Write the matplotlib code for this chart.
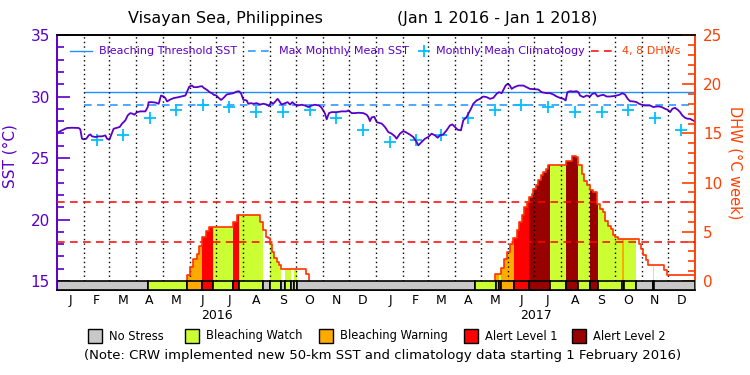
import numpy as np
import pandas as pd
import matplotlib
matplotlib.use('Agg')
import matplotlib.pyplot as plt
from matplotlib.patches import Rectangle
from matplotlib.lines import Line2D

plt.rcParams['font.family'] = 'DejaVu Sans'

# x values are days since 1 Jan 2016
sst_days = [0, 5.7, 11.5, 17.2, 24.8, 26.7, 28.6, 30.6, 33.6, 36.3, 38.2, 40.1, 43.9, 47.7,
            51.6, 55.4, 57.3, 60.0, 61.9, 64.9, 68.8, 71.8, 74.5, 78.3, 81.0, 84.0, 86.7, 88.6,
            91.7, 95.5, 101.2, 103.9, 105.0, 108.9, 112.7, 116.5, 119.2, 122.2, 124.1, 126.1,
            129.9, 133.7, 139.4, 147.1, 149.7, 151.6, 154.7, 156.6, 160.4, 163.5, 166.2, 168.1,
            170.0, 172.7, 174.9, 177.6, 179.5, 182.6, 185.0, 188.0, 191.0, 194.4, 198.2, 202.0,
            205.8, 208.5, 210.8, 213.5, 217.3, 219.2, 222.3, 224.9, 228.7, 232.6, 236.4, 240.2,
            242.9, 245.2, 247.8, 250.5, 252.8, 255.5, 257.4, 261.2, 264.3, 266.9, 269.6, 272.7,
            276.5, 280.3, 284.1, 288.0, 291.8, 295.6, 300.2, 302.5, 305.1, 307.1, 309.0, 311.6,
            314.7, 320.4, 326.2, 331.9, 333.8, 337.6, 341.4, 345.2, 351.0, 354.8, 356.7, 358.6,
            360.5, 363.6, 366.3, 369.3, 372.0, 375.8, 379.6, 383.4, 387.2, 389.1, 392.9, 396.8,
            400.6, 404.4, 408.2, 412.0, 414.0, 417.8, 421.6, 425.4, 429.2, 433.1, 436.1, 438.8,
            442.6, 446.4, 450.2, 452.9, 456.0, 459.0, 462.8, 465.5, 469.3, 471.3, 474.3, 477.0,
            480.8, 484.6, 488.4, 492.3, 496.1, 499.9, 503.7, 506.4, 509.5, 511.4, 514.0, 516.3,
            519.0, 520.9, 524.0, 528.5, 534.3, 538.1, 541.9, 545.7, 551.5, 555.3, 561.1, 564.9,
            568.7, 572.5, 576.3, 580.2, 582.8, 584.8, 587.8, 591.6, 595.4, 597.4, 599.3, 603.1,
            606.9, 610.7, 613.4, 616.5, 619.5, 622.2, 626.0, 629.8, 633.6, 637.5, 641.3, 645.1,
            647.8, 650.8, 653.9, 656.6, 660.4, 664.2, 666.9, 669.9, 673.7, 679.5, 683.3, 687.1,
            689.8, 692.9, 696.7, 699.7, 702.4, 705.1, 708.1, 711.2, 713.9, 716.5, 719.6, 722.6,
            725.3, 727.2, 730.3]
sst_vals = [27.03, 27.25, 27.44, 27.46, 27.44, 27.33, 26.57, 26.52, 26.57, 26.84, 26.92, 26.76,
            26.71, 26.76, 26.76, 26.84, 26.57, 26.49, 26.84, 27.38, 27.46, 27.52, 27.79, 28.06,
            28.46, 28.65, 28.60, 28.52, 28.73, 28.79, 28.79, 29.14, 29.54, 29.54, 29.51, 29.41,
            30.08, 30.00, 29.87, 29.60, 29.76, 29.87, 29.95, 30.08, 30.49, 30.81, 30.89, 30.76,
            30.76, 30.81, 30.84, 30.70, 30.62, 30.49, 30.35, 30.27, 30.14, 30.08, 29.90, 29.72,
            29.90, 30.16, 30.22, 30.27, 30.40, 30.43, 30.27, 29.73, 29.68, 29.41, 29.46, 29.41,
            29.46, 29.35, 29.41, 29.35, 29.22, 29.54, 29.41, 29.62, 29.81, 29.54, 29.35, 29.46,
            29.54, 29.35, 29.54, 29.35, 29.27, 29.33, 29.27, 29.14, 29.27, 29.33, 29.27, 29.14,
            28.87, 28.60, 28.14, 28.65, 28.73, 28.73, 28.79, 28.79, 28.87, 28.65, 28.65, 28.68,
            28.65, 28.52, 28.33, 28.00, 28.30, 28.35, 27.92, 27.85, 27.80, 27.52, 27.11, 26.98,
            26.76, 26.57, 26.98, 27.19, 27.06, 26.90, 26.71, 26.30, 26.03, 26.30, 26.57, 26.71,
            26.98, 26.84, 26.65, 26.84, 26.92, 27.25, 27.65, 27.73, 27.52, 27.30, 27.25, 28.06,
            28.33, 28.60, 29.00, 29.41, 29.68, 29.81, 30.00, 29.95, 29.81, 29.89, 30.22, 30.35,
            30.27, 30.54, 30.89, 31.03, 30.89, 30.62, 30.76, 30.89, 30.89, 30.76, 30.62, 30.60,
            30.57, 30.35, 30.27, 30.27, 30.16, 30.00, 29.89, 29.81, 29.68, 30.35, 30.43, 30.40,
            30.43, 30.35, 30.08, 29.95, 30.08, 30.00, 30.22, 30.27, 30.00, 30.08, 30.14, 30.00,
            30.00, 30.03, 30.08, 30.16, 30.27, 30.16, 29.81, 29.62, 29.60, 29.54, 29.41, 29.33,
            29.27, 29.27, 29.14, 29.19, 29.19, 29.14, 29.00, 28.92, 28.73, 29.00, 29.08, 28.92,
            28.73, 28.46, 28.27, 28.19, 28.19, 28.11, 28.00]

# monthly mean climatology, Jan..Dec
clim_vals = [26.34, 26.50, 26.86, 28.25, 28.92, 29.31, 29.11, 28.77, 28.77, 28.90, 28.25, 27.31]
mmm = 29.33
threshold = 30.36
threshold_start = 31  # new data from 1 Feb 2016

# degree heating weeks
dhw16_days = [149.4, 149.4, 152.7, 155.8, 160.1, 163.0, 166.5, 170.4, 174.2, 202.0, 206.0,
              232.6, 236.4, 239.1, 241.4, 244.1, 246.7, 249.0, 251.7, 254.4, 256.7, 285.3, 288.5]
dhw16_vals = [0, 0.65, 1.45, 2.2, 2.75, 3.6, 4.45, 5.1, 5.5, 6.0, 6.68,
              5.95, 5.16, 4.49, 4.32, 3.81, 2.97, 2.29, 1.96, 1.62, 1.21, 0.7, 0]
dhw17_days = [501.8, 501.8, 508.7, 512.5, 515.2, 519.0, 522.9, 526.7, 529.7, 532.4, 535.5,
              538.1, 541.2, 543.9, 545.8, 548.8, 551.5, 554.6, 557.2, 560.3, 563.0, 583.2,
              589.7, 594.7, 597.3, 601.2, 604.2, 607.7, 610.7, 614.5, 618.4, 622.2, 625.2,
              627.9, 631.7, 634.4, 636.7, 639.4, 643.2, 667.2, 668.8, 671.8, 674.9, 677.6,
              695.9, 698.6, 731.0]
dhw17_vals = [0, 0.68, 1.28, 2.19, 2.97, 3.71, 4.32, 5.16, 6.0, 6.68, 7.52,
              8.03, 8.54, 8.87, 9.38, 9.72, 10.22, 10.73, 11.07, 11.40, 11.74, 12.18,
              12.69, 12.58, 11.74, 10.90, 10.15, 9.72, 9.28, 9.04, 7.86, 7.36, 7.02,
              6.11, 5.57, 5.33, 4.72, 4.49, 4.22, 3.74, 3.21, 2.63, 2.13, 1.62,
              1.11, 0.61, 0.61]

# alert status: 0 none, 1 watch, 2 warning, 3 alert 1, 4 alert 2
status_start = [0, 104, 149.3, 166.5, 178.4, 202, 209, 236.4, 244, 256.6, 261.2, 268.1, 271.5,
                275.3, 478.5, 502.6, 506.8, 508.5, 523.6, 541.1, 564.8, 583.5, 597.3, 611.1,
                619.3, 647, 649.6, 663.4, 682.5, 684.4]
status_code = [0, 1, 2, 3, 1, 3, 1, 0, 1, 0, 1, 0, 1,
               0, 1, 2, 1, 2, 3, 4, 1, 4, 1, 4,
               1, 2, 1, 0, 1, 0]
status_names = ['No Stress', 'Bleaching Watch', 'Bleaching Warning', 'Alert Level 1', 'Alert Level 2']
status_colors = ['#c8c8c8', '#ccff33', '#ffaa00', '#ff0000', '#990000']

month_letters = list('JFMAMJJASOND') * 2
years = ['2016', '2017']

purple = '#5a00c8'
orange = '#ff4000'
blue = '#1e90ff'
cyan = '#00bfff'

base = pd.Timestamp('2016-01-01')
edges = pd.date_range('2016-01-01', '2018-01-01', freq='MS')
edge_days = np.array((edges - base).days, dtype=float)
mid_days = (edge_days[:-1] + edge_days[1:]) / 2
end_day = edge_days[-1]

fig = plt.figure(figsize=(7.5, 3.75), dpi=100)
W, H = 750.0, 375.0
ax = fig.add_axes([57 / W, 1 - 290 / H, 638 / W, 255 / H])
ax.set_xlim(0, end_day)
ax.set_ylim(14.27, 35)
ax2 = ax.twinx()
ax2.set_ylim(-0.915, 25)

# SST panel
ax.hlines(threshold, threshold_start, end_day, color=blue, lw=1.0, zorder=2)
ax.hlines(mmm, threshold_start, end_day, color=blue, lw=1.1, linestyles=(0, (5, 3.5)), zorder=2)
ax.plot(mid_days[1:12], clim_vals[1:], ls='none', marker='+', color=cyan, ms=9, mew=1.3, zorder=3)
ax.plot(mid_days[12:], clim_vals, ls='none', marker='+', color=cyan, ms=9, mew=1.3, zorder=3)
ax.plot(sst_days, sst_vals, color=purple, lw=1.3, zorder=4)

# DHW area coloured by the status of each day
dhw_days = np.array(dhw16_days + dhw17_days)
dhw_vals = np.array(dhw16_vals + dhw17_vals)
cuts = np.unique(np.concatenate([dhw_days, status_start, [end_day]]))
left = cuts[:-1]
width = np.diff(cuts)
di = np.searchsorted(dhw_days, left, side='right') - 1
height = np.where(di >= 0, dhw_vals[di.clip(0)], 0)
si = np.searchsorted(status_start, left, side='right') - 1
codes = np.array(status_code)[si]
keep = (codes > 0) & (height > 0)
ax2.bar(left[keep], height[keep], width=width[keep], align='edge',
        color=[status_colors[c] for c in codes[keep]], lw=0, antialiased=False, zorder=1)

ax2.vlines(edge_days[1:-1], 0, 25, colors='black', linestyles=(0, (1, 2.3)), lw=1, zorder=2)
ax2.hlines([4, 8], 0, end_day, colors='#ff0000', linestyles=(0, (5, 3.5)), lw=1.1, zorder=3)
ax2.step(dhw16_days, dhw16_vals, where='post', color='#ff3300', lw=1.2, zorder=4)
ax2.step(dhw17_days, dhw17_vals, where='post', color='#ff3300', lw=1.2, zorder=4)

# status bar
seg_end = status_start[1:] + [end_day]
for s, e, c in zip(status_start, seg_end, status_code):
    ax2.bar(s, 0.915, width=e - s, bottom=-0.915, align='edge', color=status_colors[c],
            edgecolor='black', lw=1.2, zorder=5)

# axes styling
for a in (ax, ax2):
    a.spines['left'].set_color(purple)
    a.spines['right'].set_color(orange)
    a.spines['top'].set_color('black')
    a.spines['bottom'].set_color('black')
    for sp in a.spines.values():
        sp.set_linewidth(1.2)

ax.set_yticks([15, 20, 25, 30, 35])
ax.set_yticks(np.arange(15, 36, 1), minor=True)
ax.tick_params(axis='y', which='major', direction='in', length=9.5, width=1.2, colors=purple,
               labelsize=11, pad=5)
ax.tick_params(axis='y', which='minor', direction='in', length=5, width=1.2, colors=purple)
ax2.set_yticks([0, 5, 10, 15, 20, 25])
ax2.set_yticks(np.arange(0, 26, 1), minor=True)
ax2.tick_params(axis='y', which='major', direction='in', length=9.5, width=1.2, colors=orange,
                labelsize=11, pad=6)
ax2.tick_params(axis='y', which='minor', direction='in', length=5, width=1.2, colors=orange)

ax.set_xticks(mid_days, month_letters)
ax.tick_params(axis='x', length=0, pad=3, labelsize=9)
for i, y in enumerate(years):
    ax.text((edge_days[12 * i] + edge_days[12 * i + 12]) / 2, -0.1, y, ha='center', va='center',
            fontsize=9, transform=ax.get_xaxis_transform())

ax.set_ylabel('SST (°C)', color=purple, fontsize=11)
ax.yaxis.set_label_coords((17 - 57) / 638, 0.524)
ax2.set_ylabel('DHW (°C week)', color=orange, fontsize=10.5, rotation=270, va='center', ha='center')
ax2.yaxis.set_label_coords((735 - 57) / 638, 0.5)

# title
fig.text(225 / W, 1 - 18 / H, 'Visayan Sea, Philippines', ha='center', va='center', fontsize=11.5)
fig.text(497 / W, 1 - 18 / H, '(Jan 1 2016 - Jan 1 2018)', ha='center', va='center', fontsize=11.5)

# legend inside the plot
ly = 1 - 51 / H
fig.add_artist(Line2D([70 / W, 92 / W], [ly, ly], color=blue, lw=1.0))
fig.text(99 / W, ly, 'Bleaching Threshold SST', color=purple, fontsize=8, va='center')
fig.add_artist(Line2D([248 / W, 272 / W], [ly, ly], color=blue, lw=1.1, ls=(0, (5, 3.5))))
fig.text(279 / W, ly, 'Max Monthly Mean SST', color=purple, fontsize=8, va='center')
fig.add_artist(Line2D([424 / W], [ly], color=cyan, marker='+', ms=8, mew=1.3, ls='none'))
fig.text(436 / W, ly, 'Monthly Mean Climatology', color=purple, fontsize=8, va='center')
fig.add_artist(Line2D([591 / W, 615 / W], [ly, ly], color='#ff0000', lw=1.1, ls=(0, (5, 3.5))))
fig.text(622 / W, ly, '4, 8 DHWs', color=orange, fontsize=8, va='center')

# status legend
box_x = [88, 185, 319, 464, 572]
by = 336
for x, name, col in zip(box_x, status_names, status_colors):
    fig.add_artist(Rectangle((x / W, 1 - (by + 7) / H), 14 / W, 14 / H, facecolor=col,
                             edgecolor='black', lw=1, transform=fig.transFigure))
    fig.text((x + 21) / W, 1 - by / H, name, fontsize=8.3, va='center')

fig.text(383 / W, 1 - 356 / H,
         '(Note: CRW implemented new 50-km SST and climatology data starting 1 February 2016)',
         ha='center', va='center', fontsize=9.5)

fig.savefig('out.png', dpi=100)
